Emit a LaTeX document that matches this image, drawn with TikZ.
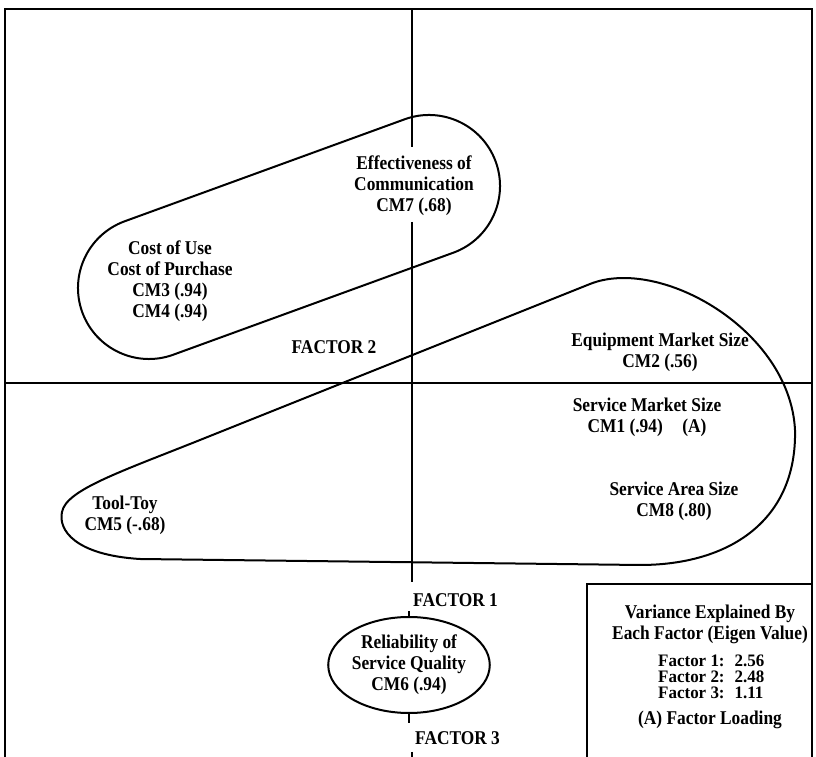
\documentclass[tikz,border=0pt]{standalone}
\usepackage{fontspec}
\newfontfamily\scanfont{Liberation Serif Bold}[FakeStretch=0.89]
\newfontfamily\scanfontw{Liberation Serif Bold}[FakeStretch=0.97]
\usetikzlibrary{shapes.geometric,calc}
\tikzset{
  lbl/.style={font=\scanfont\fontsize{19.5}{21}\selectfont, align=center, inner sep=0pt},
  tight/.style={font=\scanfontw\fontsize{17.5}{16}\selectfont, align=left, inner sep=0pt},
  axisline/.style={line width=1.6pt},
  loopline/.style={line width=2pt, line join=round}
}
\begin{document}
\begin{tikzpicture}[x=1pt,y=1pt]
\useasboundingbox (0,0) rectangle (816,757);
% outer frame
\coordinate (fbl) at (5,0);
\coordinate (ftl) at (5,748);
\coordinate (ftr) at (812,748);
\coordinate (fbr) at (812,0);
\draw[axisline] (fbl) -- (ftl) -- (ftr) -- (fbr);
% horizontal axis (Factor 2)
\coordinate (hl) at (5,374);
\coordinate (hr) at (812,374);
\draw[axisline] (hl) -- (hr);
% vertical axis segments
\coordinate (v1) at (412,748);
\coordinate (v2) at (412,610);
\coordinate (v3) at (412,535);
\coordinate (v4) at (412,175);
\coordinate (v5) at (412,5);
\coordinate (v6) at (412,0);
\draw[axisline] (v1) -- (v2);
\draw[axisline] (v3) -- (v4);
\draw[axisline] (v5) -- (v6);
% legend box
\coordinate (lb1) at (587,0);
\coordinate (lb2) at (587,173);
\coordinate (lb3) at (812,173);
\draw[axisline] (lb1) -- (lb2) -- (lb3);
% upper loop (stadium)
\coordinate (c1) at (149,469);
\coordinate (c2) at (429,571);
\draw[loopline] ($(c1)+(110:71)$) -- ($(c2)+(110:71)$)
  arc[start angle=110, end angle=-70, radius=71]
  -- ($(c1)+(-70:71)$)
  arc[start angle=-70, end angle=-250, radius=71] -- cycle;
% big loop
\draw[loopline] (200,317) -- (590,473)
  .. controls (660,501) and (790,427) .. (795,327)
  .. controls (797,237) and (730,192) .. (640,192)
  -- (140,198)
  .. controls (75,202) and (58,227) .. (62,245)
  .. controls (66,267) and (120,285) .. (200,317) -- cycle;
% texts
\node[lbl] (eff) at (414,571) {Effectiveness of\\Communication\\CM7 (.68)};
\node[lbl] (cost) at (170,475.5) {Cost of Use\\Cost of Purchase\\CM3 (.94)\\CM4 (.94)};
\node[lbl] (f2) at (334,410) {FACTOR 2};
\node[lbl] (equip) at (660,404.5) {Equipment Market Size\\CM2 (.56)};
\node[lbl] (smkt) at (647,339.5) {Service Market Size\\CM1 (.94)\quad(A)};
\node[lbl] (sarea) at (674,255.5) {Service Area Size\\CM8 (.80)};
\node[lbl] (tool) at (125,241.5) {Tool-Toy\\CM5 (-.68)};
\node[lbl, anchor=west] (f1) at (413,157) {FACTOR 1};
\node[lbl, anchor=west] (f3) at (415,19) {FACTOR 3};
\node[lbl, draw, ellipse, line width=2pt, minimum width=158, minimum height=96] (rel) at (409,92)
  {Reliability of\\Service Quality\\CM6 (.94)};
\draw[axisline] (rel.north) -- ++(0,5);
\draw[axisline] (rel.south) -- ++(0,-9);
% legend
\node[lbl] (vtitle) at (710,132.5) {Variance Explained By\\Each Factor (Eigen Value)};
\node[tight, anchor=west] (vals) at (658,80) {Factor 1:~ 2.56\\Factor 2:~ 2.48\\Factor 3:~ 1.11};
\node[lbl] (load) at (710,37) {(A) Factor Loading};
\end{tikzpicture}
\end{document}
